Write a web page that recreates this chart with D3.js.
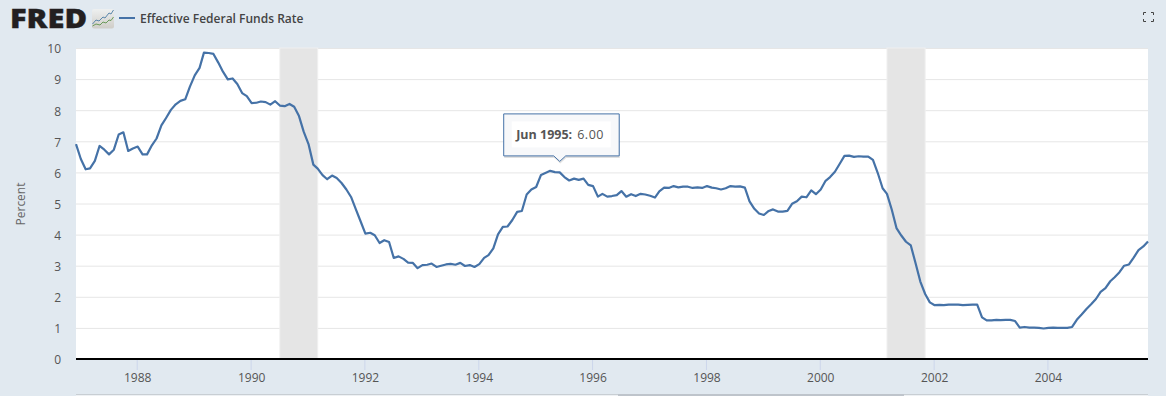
<!DOCTYPE html>
<html>
<head>
<meta charset="utf-8">
<script src="https://cdn.jsdelivr.net/npm/d3@7"></script>
<style>
  html, body { margin: 0; padding: 0; background: #e1e9f0; overflow: hidden; }
  text { font-family: "Open Sans", sans-serif; }
</style>
</head>
<body>
<div id="chart"></div>
<script>
// monthly values, Dec 1986 to Oct 2005
const firstMonth = "1986-12-01";
const lastMonth = "2005-10-01";
const rates = [
  6.91,
  6.43, 6.10, 6.13, 6.37, 6.85, 6.73, 6.58, 6.73, 7.22, 7.29, 6.69, 6.77,
  6.83, 6.58, 6.58, 6.87, 7.09, 7.51, 7.75, 8.01, 8.19, 8.30, 8.35, 8.76,
  9.12, 9.36, 9.85, 9.84, 9.81, 9.53, 9.24, 8.99, 9.02, 8.84, 8.55, 8.45,
  8.23, 8.24, 8.28, 8.26, 8.18, 8.29, 8.15, 8.13, 8.20, 8.11, 7.81, 7.31,
  6.91, 6.25, 6.12, 5.91, 5.78, 5.90, 5.82, 5.66, 5.45, 5.21, 4.81, 4.43,
  4.03, 4.06, 3.98, 3.73, 3.82, 3.76, 3.25, 3.30, 3.22, 3.10, 3.09, 2.92,
  3.02, 3.03, 3.07, 2.96, 3.00, 3.04, 3.06, 3.03, 3.09, 2.99, 3.02, 2.96,
  3.05, 3.25, 3.34, 3.56, 4.01, 4.25, 4.26, 4.47, 4.73, 4.76, 5.29, 5.45,
  5.53, 5.92, 5.98, 6.05, 6.01, 6.00, 5.85, 5.74, 5.80, 5.76, 5.80, 5.60,
  5.56, 5.22, 5.31, 5.22, 5.24, 5.27, 5.40, 5.22, 5.30, 5.24, 5.31, 5.29,
  5.25, 5.19, 5.39, 5.51, 5.50, 5.56, 5.52, 5.54, 5.54, 5.50, 5.52, 5.50,
  5.56, 5.51, 5.49, 5.45, 5.49, 5.56, 5.54, 5.55, 5.51, 5.07, 4.83, 4.68,
  4.63, 4.76, 4.81, 4.74, 4.74, 4.76, 4.99, 5.07, 5.22, 5.20, 5.42, 5.30,
  5.45, 5.73, 5.85, 6.02, 6.27, 6.53, 6.54, 6.50, 6.52, 6.51, 6.51, 6.40,
  5.98, 5.49, 5.31, 4.80, 4.21, 3.97, 3.77, 3.65, 3.07, 2.49, 2.09, 1.82,
  1.73, 1.74, 1.73, 1.75, 1.75, 1.75, 1.73, 1.74, 1.75, 1.75, 1.34, 1.24,
  1.24, 1.26, 1.25, 1.26, 1.26, 1.22, 1.01, 1.03, 1.01, 1.01, 1.00, 0.98,
  1.00, 1.01, 1.00, 1.00, 1.00, 1.03, 1.26, 1.43, 1.61, 1.76, 1.93, 2.16,
  2.28, 2.50, 2.63, 2.79, 3.00, 3.04, 3.26, 3.50, 3.62, 3.78
];
const recessionStarts = ["1990-07-01", "2001-03-01"];
const recessionEnds = ["1991-03-01", "2001-11-01"];
const yTicks = [0, 1, 2, 3, 4, 5, 6, 7, 8, 9, 10];
const xTickYears = [1988, 1990, 1992, 1994, 1996, 1998, 2000, 2002, 2004];
const seriesName = "Effective Federal Funds Rate";
const yLabel = "Percent";
const tooltipDate = "1995-06-01";
const tooltipValue = 6.00;

const W = 1166, H = 396;
const margin = { top: 48, right: 18, bottom: 37, left: 76 },
    width = W - margin.left - margin.right,
    height = H - margin.top - margin.bottom;

const blue = "#4572a7";
const parse = d3.utcParse("%Y-%m-%d");
const months = d3.utcMonth.range(parse(firstMonth), d3.utcMonth.offset(parse(lastMonth), 1));

const root = d3.select("#chart")
    .append("svg")
    .attr("width", W)
    .attr("height", H)
    .style("display", "block");

const svg = root.append("g")
    .attr("transform", "translate(" + margin.left + "," + margin.top + ")");

const x = d3.scaleUtc()
    .domain([parse(firstMonth), parse(lastMonth)])
    .range([0, width]);
const y = d3.scaleLinear()
    .domain([0, 10])
    .range([height, 0]);

// plot background
svg.append("rect")
    .attr("width", width)
    .attr("height", height)
    .attr("fill", "#fff");

// gridlines
const grid = svg.append("g")
    .call(d3.axisLeft(y).tickValues(yTicks.slice(1)).tickSize(-width).tickFormat(""));
grid.select(".domain").remove();
grid.selectAll(".tick line")
    .style("stroke", "#e6e6e6")
    .style("stroke-width", 1);

// recession bands, with the pale fringe on the right edge
recessionStarts.forEach(function (d, i) {
    svg.append("rect")
        .attr("x", x(parse(d)))
        .attr("y", 0)
        .attr("width", x(parse(recessionEnds[i])) - x(parse(d)))
        .attr("height", height)
        .attr("fill", "#e5e5e5")
        .attr("stroke", "#f0f0f0")
        .attr("stroke-width", 1);
});

// Y axis
const yAxis = svg.append("g")
    .call(d3.axisLeft(y).tickValues(yTicks).tickSize(0).tickPadding(15).tickFormat(d3.format("d")));
yAxis.select(".domain").remove();
yAxis.selectAll("text")
    .attr("y", 1)
    .attr("fill", "#555")
    .style("font-size", "12px");

// X axis
const xAxis = svg.append("g")
    .attr("transform", "translate(0," + height + ")")
    .call(d3.axisBottom(x)
        .tickValues(xTickYears.map(function (d) { return new Date(Date.UTC(d, 0, 1)); }))
        .tickSize(11)
        .tickPadding(3)
        .tickFormat(d3.utcFormat("%Y")));
xAxis.select(".domain").remove();
xAxis.selectAll(".tick line")
    .attr("x1", -1)
    .attr("x2", -1)
    .style("stroke", "#ccd6eb");
xAxis.selectAll("text")
    .attr("x", -0.5)
    .attr("fill", "#555")
    .style("font-size", "12px");

// heavy baseline
svg.append("line")
    .attr("x1", 0)
    .attr("x2", width)
    .attr("y1", y(0))
    .attr("y2", y(0))
    .attr("stroke", "#000")
    .attr("stroke-width", 2);

// series line
const line = d3.line()
    .x(function (d, i) { return x(months[i]); })
    .y(function (d) { return y(d); });
svg.append("path")
    .datum(rates)
    .attr("d", line)
    .attr("fill", "none")
    .attr("stroke", blue)
    .attr("stroke-width", 2.2)
    .attr("stroke-linejoin", "round");

// y axis title
root.append("text")
    .attr("transform", "translate(25,204) rotate(-90)")
    .attr("text-anchor", "middle")
    .attr("fill", "#666")
    .style("font-size", "12px")
    .text(yLabel);

// tooltip
const tx = x(parse(tooltipDate)), ty = y(tooltipValue);
const tip = svg.append("g")
    .attr("transform", "translate(" + tx + "," + ty + ")");
tip.append("path")
    .attr("d", "M-56,-58.5 H59.5 V-16.5 H6 L0,-11 L-6,-16.5 H-56 Z")
    .attr("transform", "translate(0.5,2)")
    .attr("fill", "#000")
    .attr("opacity", 0.12);
tip.append("path")
    .attr("d", "M-56,-58.5 H59.5 V-16.5 H6 L0,-11 L-6,-16.5 H-56 Z")
    .attr("fill", "#f7f8fa")
    .attr("stroke", blue)
    .attr("stroke-width", 1);
tip.append("rect")
    .attr("x", -48)
    .attr("y", -51)
    .attr("width", 99)
    .attr("height", 26)
    .attr("fill", "#fff");
const tipText = tip.append("text")
    .attr("x", -43.5)
    .attr("y", -33)
    .attr("fill", "#555")
    .style("font-size", "12.5px");
tipText.append("tspan")
    .style("font-weight", 700)
    .text(d3.utcFormat("%b %Y")(parse(tooltipDate)) + ":");
tipText.append("tspan")
    .attr("dx", 5)
    .style("letter-spacing", "0.5px")
    .text(tooltipValue.toFixed(2));

// header: FRED logo
root.append("text")
    .attr("x", 10)
    .attr("y", 28)
    .attr("textLength", 77)
    .attr("lengthAdjust", "spacingAndGlyphs")
    .attr("fill", "#231f20")
    .attr("stroke", "#231f20")
    .attr("stroke-width", 0.4)
    .style("font-size", "27px")
    .style("font-weight", 800)
    .text("FRED");

const grad = root.append("defs").append("linearGradient")
    .attr("id", "logoBg")
    .attr("x1", 0).attr("y1", 0).attr("x2", 0).attr("y2", 1);
grad.append("stop").attr("offset", 0).attr("stop-color", "#eef0f0");
grad.append("stop").attr("offset", 1).attr("stop-color", "#cfcdc8");

root.append("rect")
    .attr("x", 92).attr("y", 9)
    .attr("width", 22).attr("height", 19.5)
    .attr("rx", 2)
    .attr("fill", "url(#logoBg)");
root.append("path")
    .attr("d", "M92.5,24 L96,20 L99,21 L103,17 L105,18 L109,13 L111,14 L113.5,10")
    .attr("fill", "none")
    .attr("stroke", "#5a87ac")
    .attr("stroke-width", 1);
root.append("path")
    .attr("d", "M92.5,26 L96,24 L100,25 L103,22 L106,23 L109,20 L111,20.5 L113.5,17")
    .attr("fill", "none")
    .attr("stroke", "#6a9a5a")
    .attr("stroke-width", 1);

// header: legend
root.append("line")
    .attr("x1", 119).attr("x2", 135)
    .attr("y1", 18).attr("y2", 18)
    .attr("stroke", blue)
    .attr("stroke-width", 2);
root.append("text")
    .attr("x", 140)
    .attr("y", 22.5)
    .attr("fill", "#444")
    .style("font-size", "12px")
    .style("font-weight", 600)
    .text(seriesName);

// fullscreen icon
root.append("path")
    .attr("d", "M1143.5,15 V12.5 H1146 M1151,12.5 H1153.5 V15 M1153.5,19 V21.5 H1151 M1146,21.5 H1143.5 V19")
    .attr("fill", "none")
    .attr("stroke", "#444")
    .attr("stroke-width", 1);

// cut-off navigator strip along the bottom edge
root.append("rect")
    .attr("x", 76).attr("y", 394)
    .attr("width", 1072).attr("height", 1)
    .attr("fill", "#c8ced3");
root.append("rect")
    .attr("x", 76).attr("y", 395)
    .attr("width", 1072).attr("height", 1)
    .attr("fill", "#eef1f4");
root.append("rect")
    .attr("x", 618).attr("y", 394)
    .attr("width", 286).attr("height", 2)
    .attr("fill", "#bec4cb");
</script>
</body>
</html>
